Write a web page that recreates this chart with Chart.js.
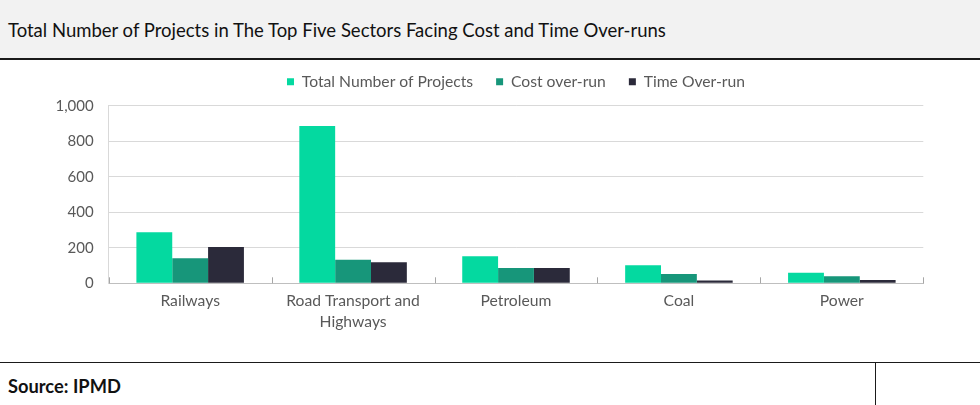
<!DOCTYPE html>
<html>
<head>
<meta charset="utf-8">
<script src="https://cdn.jsdelivr.net/npm/chart.js@4"></script>
<style>
  html, body { margin: 0; padding: 0; background: #ffffff; }
  body { width: 980px; height: 405px; position: relative; overflow: hidden; font-family: Lato, "Open Sans", sans-serif; }
  #title { position: absolute; left: 0; top: 0; width: 980px; height: 58px; background: #f2f2f2; border-bottom: 2px solid #1a1a1a; }
  #title span { position: absolute; left: 8px; top: 19px; font-size: 18.5px; line-height: 22px; color: #111; white-space: nowrap; }
  #chartBox { position: absolute; left: 52px; top: 60px; width: 928px; height: 302px; }
  #footer { position: absolute; left: 0; top: 362px; width: 980px; height: 43px; border-top: 1.5px solid #1a1a1a; }
  #footer span { position: absolute; left: 8px; top: 12px; font-size: 18.3px; line-height: 22px; font-weight: bold; color: #111; }
  #footer .vline { position: absolute; left: 875px; top: 0; width: 1px; height: 43px; background: #1a1a1a; }
</style>
</head>
<body>
<div id="title"><span>Total Number of Projects in The Top Five Sectors Facing Cost and Time Over-runs</span></div>
<div id="chartBox"><canvas id="c"></canvas></div>
<div id="footer"><span>Source: IPMD</span><div class="vline"></div></div>
<script>
const categories = ["Railways", ["Road Transport and", "Highways"], "Petroleum", "Coal", "Power"];
const totalProjects = [287, 886, 152, 101, 60];
const costOverrun = [141, 133, 86, 53, 39];
const timeOverrun = [204, 118, 86, 16, 18];
const yTicks = [0, 200, 400, 600, 800, 1000];

const tickMarks = {
  id: 'tickMarks',
  afterDatasetsDraw(chart) {
    const xs = chart.scales.x;
    const ca = chart.chartArea;
    const n = chart.data.labels.length;
    const half = (xs.getPixelForValue(1) - xs.getPixelForValue(0)) / 2;
    const ctx = chart.ctx;
    ctx.save();
    ctx.strokeStyle = '#a6a6a6';
    ctx.lineWidth = 1;
    for (let i = 0; i <= n; i++) {
      const x = Math.round(xs.getPixelForValue(Math.min(i, n - 1)) + (i === n ? half : -half)) + 0.5;
      ctx.beginPath();
      ctx.moveTo(x, ca.bottom);
      ctx.lineTo(x, ca.bottom - 6);
      ctx.stroke();
    }
    ctx.restore();
  }
};

// Extra gap under the legend, and centre the legend over the plot area
const legendTweak = {
  id: 'legendTweak',
  afterInit(chart) {
    const lg = chart.legend;
    if (!lg) return;
    const origFit = lg.fit;
    lg.fit = function () { origFit.call(this); this.height += 6; };
    const origDraw = lg.draw;
    lg.draw = function () {
      const ca = chart.chartArea;
      const dx = (ca.left + ca.right) / 2 - (this.left + this.right) / 2;
      const ctx = chart.ctx;
      ctx.save();
      ctx.translate(dx, 0);
      origDraw.apply(this, arguments);
      ctx.restore();
    };
  }
};

new Chart(document.getElementById('c'), {
  type: 'bar',
  data: {
    labels: categories,
    datasets: [
      { label: 'Total Number of Projects', data: totalProjects, backgroundColor: '#04d9a0' },
      { label: 'Cost over-run', data: costOverrun, backgroundColor: '#17967a' },
      { label: 'Time Over-run', data: timeOverrun, backgroundColor: '#2b2a3a' }
    ]
  },
  options: {
    responsive: true,
    maintainAspectRatio: false,
    animation: false,
    layout: { padding: { top: -9, right: 56.7, left: 0, bottom: 0 } },
    datasets: { bar: { categoryPercentage: 0.66, barPercentage: 1.0 } },
    plugins: {
      legend: {
        position: 'top',
        labels: {
          boxWidth: 7, boxHeight: 7, padding: 23,
          color: '#595959',
          font: { family: 'Lato', size: 15.7 }
        }
      },
      tooltip: { enabled: false }
    },
    scales: {
      x: {
        grid: { display: true, drawOnChartArea: false, drawTicks: false },
        border: { display: true, color: '#bfbfbf' },
        ticks: { color: '#595959', font: { family: 'Lato', size: 15.7, lineHeight: 1.35 }, padding: 7, maxRotation: 0 },
        afterFit(scale) { scale.height = 78.7; }
      },
      y: {
        min: 0, max: 1000,
        afterBuildTicks(scale) { scale.ticks = yTicks.map(v => ({ value: v })); },
        grid: { color: '#d9d9d9', drawTicks: false },
        border: { display: true, color: '#d9d9d9' },
        ticks: {
          color: '#595959', font: { family: 'Lato', size: 15 }, padding: 15,
          callback: (v) => v.toLocaleString('en-US')
        },
        afterFit(scale) { scale.width = 56.7; }
      }
    }
  },
  plugins: [tickMarks, legendTweak]
});
</script>
</body>
</html>
